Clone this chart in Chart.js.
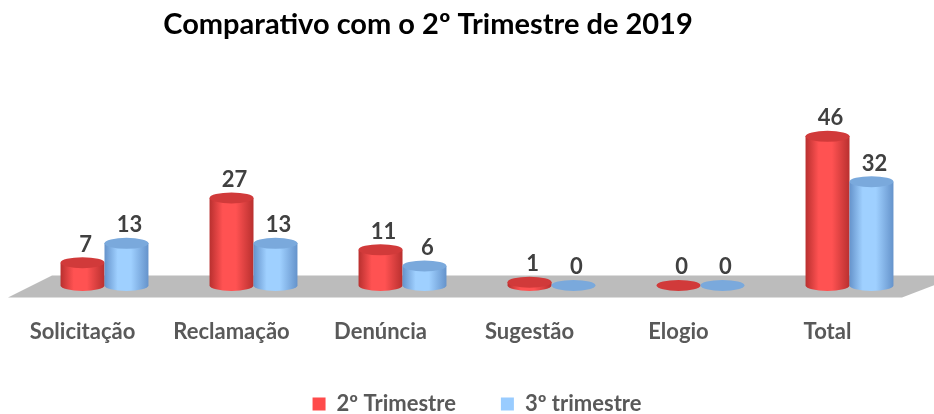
<!DOCTYPE html>
<html>
<head>
<meta charset="utf-8">
<script src="https://cdn.jsdelivr.net/npm/chart.js@4/dist/chart.umd.min.js"></script>
<style>
  html, body { margin: 0; padding: 0; background: #fff; }
  #wrap { width: 934px; height: 414px; }
</style>
</head>
<body>
<div id="wrap"><canvas id="grafico"></canvas></div>
<script>
// dados
const categorias = ['Solicitação', 'Reclamação', 'Denúncia', 'Sugestão', 'Elogio', 'Total'];
const trimestre2 = [7, 27, 11, 1, 0, 46];
const trimestre3 = [13, 13, 6, 0, 0, 32];
const nomesSeries = ['2º Trimestre', '3º trimestre'];
const titulo = 'Comparativo com o 2º Trimestre de 2019';

const FONTE = 'Lato, "Open Sans", sans-serif';

// cores do cilindro: borda, meio, topo
const coresVermelho = { edge: '#b9302f', mid: '#ff5252', top: '#d13a3a' };
const coresAzul = { edge: '#6593cb', mid: '#9fd0ff', top: '#7aa9dc' };

function cilindro(ctx, x, topo, base, w, cores) {
  const rx = w / 2, ry = 5.5;
  if (base - topo > 0.5) {
    const g = ctx.createLinearGradient(x - rx, 0, x + rx, 0);
    g.addColorStop(0, cores.edge);
    g.addColorStop(0.3, cores.mid);
    g.addColorStop(0.6, cores.mid);
    g.addColorStop(1, cores.edge);
    ctx.beginPath();
    ctx.moveTo(x - rx, topo);
    ctx.lineTo(x - rx, base);
    ctx.ellipse(x, base, rx, ry, 0, Math.PI, 0, true);
    ctx.lineTo(x + rx, topo);
    ctx.closePath();
    ctx.fillStyle = g;
    ctx.fill();
  }
  ctx.beginPath();
  ctx.ellipse(x, topo, rx, ry, 0, 0, Math.PI * 2);
  ctx.fillStyle = cores.top;
  ctx.fill();
}

const plugin3d = {
  id: 'plugin3d',
  beforeDatasetsDraw(chart) {
    // piso cinza
    const ctx = chart.ctx;
    const base = chart.scales.y.getPixelForValue(0);
    ctx.save();
    ctx.beginPath();
    ctx.moveTo(52, base - 10);
    ctx.lineTo(960, base - 10);
    ctx.lineTo(902, base + 12);
    ctx.lineTo(8, base + 12);
    ctx.closePath();
    ctx.fillStyle = '#bcbcbc';
    ctx.fill();
    ctx.restore();
  },
  beforeDatasetDraw() {
    return false;
  },
  afterDatasetsDraw(chart) {
    const ctx = chart.ctx;
    ctx.save();
    chart.data.datasets.forEach((ds, i) => {
      const meta = chart.getDatasetMeta(i);
      const cores = i === 0 ? coresVermelho : coresAzul;
      meta.data.forEach((bar, j) => {
        cilindro(ctx, bar.x, bar.y, bar.base, bar.width, cores);
        ctx.fillStyle = '#404040';
        ctx.font = 'bold 22px ' + FONTE;
        ctx.textAlign = 'center';
        ctx.textBaseline = 'middle';
        ctx.fillText(String(ds.data[j]), bar.x + 3, bar.y - 18);
      });
    });
    // titulo
    ctx.fillStyle = '#000';
    ctx.font = 'bold 29px ' + FONTE;
    ctx.textAlign = 'center';
    ctx.textBaseline = 'middle';
    ctx.fillText(titulo, 428, 25);
    ctx.restore();
  }
};

new Chart(document.getElementById('grafico'), {
  type: 'bar',
  data: {
    labels: categorias,
    datasets: [
      { label: nomesSeries[0], data: trimestre2, backgroundColor: '#ff4b4b' },
      { label: nomesSeries[1], data: trimestre3, backgroundColor: '#99ccff' }
    ]
  },
  options: {
    responsive: true,
    maintainAspectRatio: false,
    animation: false,
    layout: { padding: { top: 91, left: 30, right: 10, bottom: -11 } },
    datasets: { bar: { barPercentage: 1, categoryPercentage: 0.59 } },
    scales: {
      x: {
        grid: { display: false, drawTicks: false },
        border: { display: false },
        ticks: {
          padding: 33,
          labelOffset: -22,
          color: '#595959',
          font: { family: FONTE, size: 22, weight: 'bold' }
        }
      },
      y: {
        display: false,
        min: 0,
        max: 60
      }
    },
    plugins: {
      legend: {
        position: 'bottom',
        title: { display: true, text: '', font: { size: 1 }, padding: { top: 0, bottom: -31 } },
        labels: {
          boxWidth: 13,
          boxHeight: 13,
          padding: 45,
          color: '#595959',
          font: { family: FONTE, size: 22, weight: 'bold' }
        }
      },
      tooltip: { enabled: false }
    }
  },
  plugins: [plugin3d]
});
</script>
</body>
</html>
